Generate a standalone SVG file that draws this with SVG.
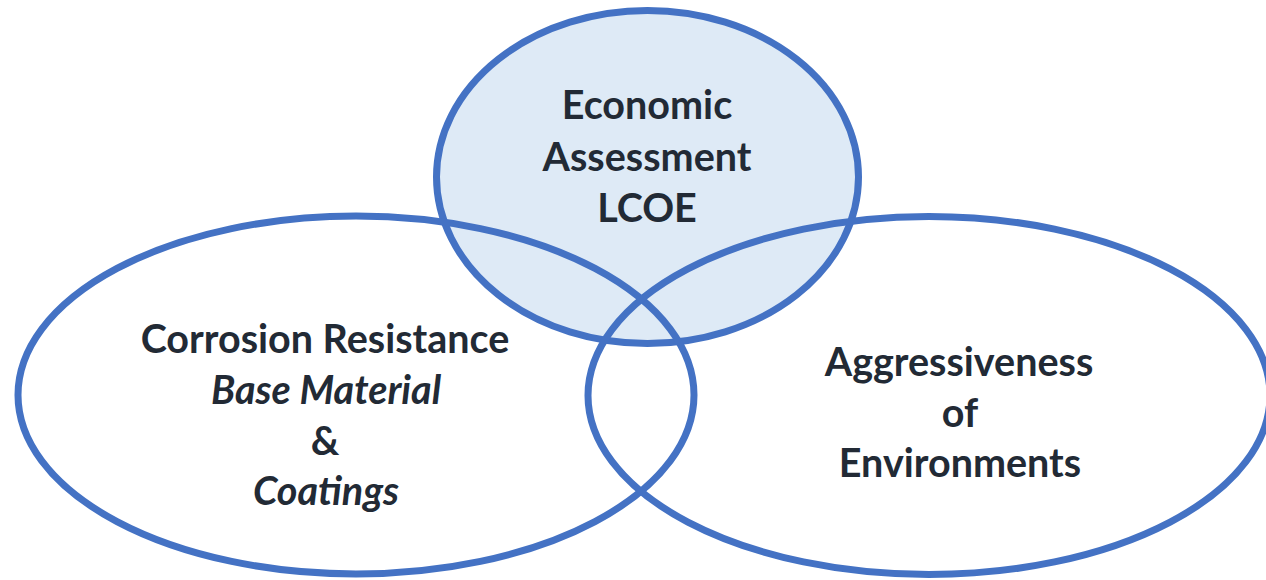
<svg xmlns="http://www.w3.org/2000/svg" width="1266" height="580" viewBox="0 0 1266 580">
<style>
.ring{fill:none;stroke:#4472c4;stroke-width:7}
.fillc{fill:#deeaf6;stroke:none}
.t{font-family:Lato,"Open Sans",sans-serif;font-weight:bold;font-size:39.5px;fill:#222a35;text-anchor:middle}
.i{font-style:italic}
</style>
<rect width="1266" height="580" fill="#ffffff"/>
<g id="economic">
<ellipse class="fillc" cx="647.5" cy="177" rx="211" ry="166.5"/>
<ellipse class="ring" cx="647.5" cy="177" rx="211" ry="166.5"/>
<text class="t" x="647" y="119">Economic</text>
<text class="t" x="647" y="171">Assessment</text>
<text class="t" x="647" y="222">LCOE</text>
</g>
<g id="corrosion">
<ellipse class="ring" cx="356" cy="395" rx="338" ry="179"/>
<text class="t" x="325" y="353">Corrosion Resistance</text>
<text class="t i" x="326" y="404">Base Material</text>
<text class="t" x="325" y="455">&amp;</text>
<text class="t i" x="326" y="505">Coatings</text>
</g>
<g id="environment">
<ellipse class="ring" cx="929" cy="395.5" rx="341" ry="179"/>
<text class="t" x="959" y="376">Aggressiveness</text>
<text class="t" x="960" y="427">of</text>
<text class="t" x="960" y="477">Environments</text>
</g>
<g id="connectors"/>
</svg>
